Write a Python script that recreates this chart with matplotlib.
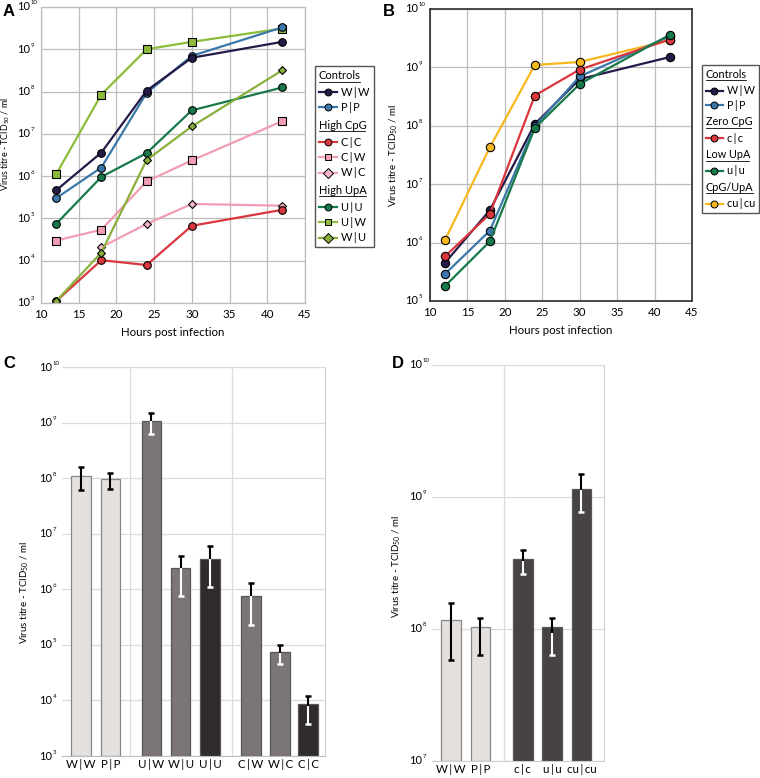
import numpy as np
import matplotlib
matplotlib.use('Agg')
import matplotlib.pyplot as plt
from matplotlib.lines import Line2D
from matplotlib.offsetbox import AnchoredOffsetbox, VPacker, HPacker, TextArea, DrawingArea
from matplotlib.ticker import NullLocator
from matplotlib.textpath import TextPath
from matplotlib.font_manager import FontProperties
from matplotlib.transforms import blended_transform_factory, offset_copy

plt.rcParams['font.family'] = ['Lato', 'DejaVu Sans']
plt.rcParams['mathtext.fontset'] = 'custom'
plt.rcParams['mathtext.rm'] = 'Lato'
plt.rcParams['mathtext.it'] = 'Lato:italic'
plt.rcParams['mathtext.bf'] = 'Lato:bold'

TS = '\u2009'  # thin space used around the pipe in labels

# ---------------- data ----------------
hours = [12, 18, 24, 30, 42]

# Panel A
A_WW = [4.6e5, 3.6e6, 1.05e8, 6.3e8, 1.5e9]
A_PP = [3.0e5, 1.6e6, 9.3e7, 7.0e8, 3.3e9]
A_CC = [1.1e3, 1.03e4, 7.9e3, 6.7e4, 1.6e5]
A_CW = [3.0e4, 5.4e4, 7.5e5, 2.35e6, 2.0e7]
A_WC = [np.nan, 2.1e4, 7.4e4, 2.2e5, 2.0e5]
A_UU = [7.4e4, 9.6e5, 3.5e6, 3.6e7, 1.25e8]
A_UW = [1.1e6, 8.5e7, 1.0e9, 1.5e9, 3.1e9]
A_WU = [1.1e3, 1.56e4, 2.4e6, 1.5e7, 3.2e8]

# Panel B
B_WW = [4.5e5, 3.6e6, 1.07e8, 6.3e8, 1.5e9]
B_PP = [2.9e5, 1.6e6, 9.8e7, 7.0e8, 3.4e9]
B_cc = [5.8e5, 3.1e6, 3.3e8, 9.2e8, 3.0e9]
B_uu = [1.8e5, 1.05e6, 9.2e7, 5.2e8, 3.6e9]
B_cucu = [1.1e6, 4.3e7, 1.1e9, 1.24e9, 2.9e9]

# Panel C (42 h titres)
C_labels = ['W|W', 'P|P', 'U|W', 'W|U', 'U|U', 'C|W', 'W|C', 'C|C']
C_vals = [1.1e8, 9.6e7, 1.05e9, 2.4e6, 3.5e6, 7.5e5, 7.2e4, 7.8e3]
C_hi = [1.6e8, 1.25e8, 1.5e9, 3.9e6, 5.9e6, 1.3e6, 1.0e5, 1.2e4]
C_lo = [6.0e7, 6.3e7, 6.2e8, 7.7e5, 1.1e6, 2.3e5, 4.5e4, 3.8e3]

# Panel D
D_labels = ['W|W', 'P|P', 'c|c', 'u|u', 'cu|cu']
D_vals = [1.07e8, 9.3e7, 3.3e8, 9.3e7, 1.13e9]
D_hi = [1.57e8, 1.22e8, 4.0e8, 1.22e8, 1.5e9]
D_lo = [5.8e7, 6.3e7, 2.6e8, 6.3e7, 7.7e8]

# ---------------- styles ----------------
NAVY = '#251a48'
BLUE = '#3b78a9'
RED = '#d9373d'
PINK = '#f19db2'
PINK2 = '#f4b6c6'
DGREEN = '#17794a'
LGREEN = '#8dbb3a'
OLIVE = '#88b03a'
GOLD = '#f6b81e'

LIGHT = '#e3e0de'
MED = '#7b7576'
DARK_C = '#2f2b2c'
DARK_D = '#474344'

YLAB = 'Virus titre - TCID$_{50}$ / ml'

W, H = 760, 778
fig = plt.figure(figsize=(W / 100, H / 100), dpi=100)


def add_ax(l, t, r, b):
    return fig.add_axes([l / W, 1 - b / H, (r - l) / W, (b - t) / H])


def pipe(s):
    return s.replace('|', TS + '|' + TS)


def log_labels(ax, nmin, nmax, gap=10):
    ax.set_yticks([10.0 ** n for n in range(nmin, nmax + 1)])
    ax.set_yticklabels([])
    ax.yaxis.set_minor_locator(NullLocator())
    tr = blended_transform_factory(ax.transAxes, ax.transData)
    for n in range(nmin, nmax + 1):
        ax.text(0, 10.0 ** n, '10', transform=offset_copy(tr, x=-gap, y=0, units='dots'),
                ha='right', va='center', fontsize=8)
        ax.text(0, 10.0 ** n, str(n), transform=offset_copy(tr, x=-gap + 0.5, y=4, units='dots'),
                ha='left', va='center', fontsize=4.3)


def style_line_ax(ax, nmin, spine_color, spine_lw, gap, ylab_xy, ylab_fs):
    ax.set_yscale('log')
    ax.set_xlim(10, 45)
    ax.set_ylim(10.0 ** nmin, 1e10)
    ax.set_xticks([10, 15, 20, 25, 30, 35, 40, 45])
    log_labels(ax, nmin, 10, gap)
    ax.grid(True, color='#bdbdbd', lw=0.9)
    ax.set_axisbelow(True)
    ax.tick_params(length=0, labelsize=8.3, pad=4)
    for s in ax.spines.values():
        s.set_color(spine_color)
        s.set_linewidth(spine_lw)
    ax.set_xlabel('Hours post infection', fontsize=8.3, labelpad=5)
    ax.set_ylabel(YLAB, fontsize=ylab_fs)
    ax.yaxis.set_label_coords(*ylab_xy)


def series(ax, y, color, marker, ms=5.5, mfc=None):
    ax.plot(hours, y, color=color, lw=1.6, marker=marker, ms=ms,
            mfc=mfc or color, mec='black', mew=0.8)


def header_box(text, size):
    ta = TextArea(text, textprops=dict(fontsize=size))
    w = TextPath((0, 0), text, size=size, prop=FontProperties(family='Lato')).get_extents().width
    da = DrawingArea(w, 1.2, 0, 0)
    da.add_artist(Line2D([0, w], [0.9, 0.9], color='black', lw=0.6))
    return VPacker(children=[ta, da], pad=0, sep=0, align='left')


def make_legend(ax, groups, anchor, row_sep, group_sep, fs, hlen):
    blocks = []
    for header, items in groups:
        rows = [header_box(header, fs)]
        for lab, color, marker, mfc in items:
            da = DrawingArea(hlen, 8, 0, 0)
            da.add_artist(Line2D([0, hlen / 2, hlen], [4, 4, 4], color=color, lw=1.6,
                                 marker=marker, markevery=[1], ms=5,
                                 mfc=mfc or color, mec='black', mew=0.7))
            rows.append(HPacker(children=[da, TextArea(pipe(lab), textprops=dict(fontsize=fs))],
                                pad=0, sep=3.0, align='center'))
        blocks.append(VPacker(children=rows, pad=0, sep=row_sep, align='left'))
    box = VPacker(children=blocks, pad=0, sep=group_sep, align='left')
    anc = AnchoredOffsetbox(loc='upper left', child=box, pad=0.28, borderpad=0,
                            frameon=True, bbox_to_anchor=anchor,
                            bbox_transform=ax.transAxes)
    anc.patch.set_edgecolor('#555555')
    anc.patch.set_linewidth(1.0)
    anc.patch.set_boxstyle('square', pad=0)
    ax.add_artist(anc)


# ---------------- Panel A ----------------
axA = add_ax(41, 7, 305, 303)
style_line_ax(axA, 3, '#bdbdbd', 0.9, 11, (-0.108, 0.537), 6.4)
series(axA, A_WC, PINK, 'D', ms=4.2, mfc=PINK2)
series(axA, A_CW, PINK, 's', ms=5.5)
series(axA, A_CC, RED, 'o')
series(axA, A_UU, DGREEN, 'o')
series(axA, A_WU, OLIVE, 'D', ms=4.2)
series(axA, A_UW, LGREEN, 's', ms=5.5)
series(axA, A_PP, BLUE, 'o')
series(axA, A_WW, NAVY, 'o')
make_legend(axA, [
    ('Controls', [('W|W', NAVY, 'o', None), ('P|P', BLUE, 'o', None)]),
    ('High CpG', [('C|C', RED, 'o', None), ('C|W', PINK, 's', None), ('W|C', PINK, 'D', PINK2)]),
    ('High UpA', [('U|U', DGREEN, 'o', None), ('U|W', LGREEN, 's', None), ('W|U', OLIVE, 'D', None)]),
], (1.038, 0.80), 2.9, 5.0, 8.0, 13)

# ---------------- Panel B ----------------
axB = add_ax(430, 9, 692, 301)
style_line_ax(axB, 5, '#3a3a3a', 1.3, 12, (-0.115, 0.50), 7.0)
series(axB, B_cucu, GOLD, 'o', ms=6)
series(axB, B_WW, NAVY, 'o', ms=6)
series(axB, B_PP, BLUE, 'o', ms=6)
series(axB, B_cc, RED, 'o', ms=6)
series(axB, B_uu, DGREEN, 'o', ms=6)
make_legend(axB, [
    ('Controls', [('W|W', NAVY, 'o', None), ('P|P', BLUE, 'o', None)]),
    ('Zero CpG', [('c|c', RED, 'o', None)]),
    ('Low UpA', [('u|u', DGREEN, 'o', None)]),
    ('CpG/UpA', [('cu|cu', GOLD, 'o', None)]),
], (1.038, 0.808), 2.5, 4.0, 7.8, 12)


# ---------------- bar panels ----------------
def bar_panel(ax, pos, labels, vals, hi, lo, colors, lowcols, nmin, xlim, seps, ylab_xy):
    ax.set_yscale('log')
    ax.set_ylim(10.0 ** nmin, 1e10)
    ax.set_xlim(*xlim)
    edges = ['#8a8686' if c == LIGHT else '#5a5556' for c in colors]
    ax.bar(pos, vals, width=0.67, bottom=10.0 ** nmin, color=colors, edgecolor=edges, lw=0.9, zorder=2)
    for p, v, h, l, lc in zip(pos, vals, hi, lo, lowcols):
        ax.vlines(p, v, h, color='black', lw=1.5, zorder=3)
        ax.plot([p], [h], marker='_', ms=5, mew=1.8, color='black', zorder=3)
        ax.vlines(p, l, v, color=lc, lw=1.5, zorder=3)
        ax.plot([p], [l], marker='_', ms=5, mew=1.8, color=lc, zorder=3)
    ax.set_xticks(pos)
    ax.set_xticklabels([pipe(s) for s in labels], fontsize=8.3)
    log_labels(ax, nmin, 10, 10)
    ax.grid(True, axis='y', color='#dcdcdc', lw=0.9, zorder=0)
    for s in seps:
        ax.axvline(s, color='#dcdcdc', lw=0.9, zorder=0)
    ax.set_axisbelow(True)
    ax.tick_params(axis='y', length=0)
    ax.tick_params(axis='x', length=0, pad=2)
    ax.spines['left'].set_visible(False)
    ax.spines['top'].set_color('#dcdcdc')
    ax.spines['right'].set_color('#cfcfcf')
    ax.spines['bottom'].set_color('#bdbdbd')
    ax.set_ylabel(YLAB, fontsize=7.0)
    ax.yaxis.set_label_coords(*ylab_xy)


axC = add_ax(62, 367, 325, 756)
C_pos = [0, 1, 2.4, 3.4, 4.4, 5.8, 6.8, 7.75]
C_cols = [LIGHT, LIGHT, MED, MED, DARK_C, MED, MED, DARK_C]
C_lowc = ['black', 'black', 'white', 'white', 'white', 'white', 'white', 'white']
bar_panel(axC, C_pos, C_labels, C_vals, C_hi, C_lo, C_cols, C_lowc, 3, (-0.65, 8.33),
          [1.67, 5.15], (-0.118, 0.42))

axD = add_ax(432, 365, 604, 761)
D_pos = [0, 1, 2.45, 3.45, 4.45]
D_cols = [LIGHT, LIGHT, DARK_D, DARK_D, DARK_D]
D_lowc = ['black', 'black', 'white', 'white', 'white']
bar_panel(axD, D_pos, D_labels, D_vals, D_hi, D_lo, D_cols, D_lowc, 7, (-0.65, 5.22),
          [1.8], (-0.169, 0.49))
axD.spines['bottom'].set_color('#cfcfcf')

# panel letters
for lab, x, y in [('A', 3, 4), ('B', 383, 4), ('C', 3, 356), ('D', 392, 356)]:
    fig.text(x / W, 1 - y / H, lab, fontsize=12, fontweight='bold',
             family=['Liberation Sans', 'DejaVu Sans'], va='top', ha='left')

fig.savefig('out.png', dpi=100)
